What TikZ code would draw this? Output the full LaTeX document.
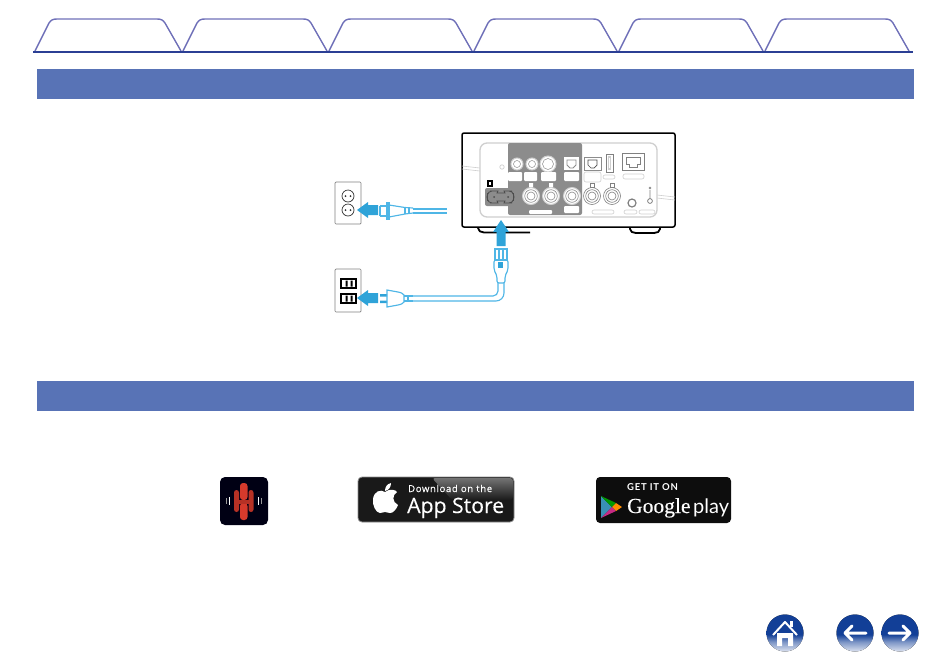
\documentclass[tikz,border=0pt]{standalone}
\usepackage{fontspec}
\setmainfont{Open Sans}
\newfontfamily\gfont{Liberation Serif}
\newfontfamily\badgefont{Lato}
\usetikzlibrary{positioning}
\definecolor{tabline}{HTML}{6F70B8}
\definecolor{tabbase}{HTML}{2B3F94}
\definecolor{barblue}{HTML}{5873B6}
\definecolor{plugblue}{HTML}{2FA3D8}
\definecolor{cordblue}{HTML}{4FB6E6}
\definecolor{panelgray}{HTML}{8C8C8C}
\definecolor{edgegray}{HTML}{CFCFCF}
\definecolor{navblue}{HTML}{123F97}
\definecolor{heosred}{HTML}{D63A2C}
\pgfdeclareverticalshading{navfade}{100bp}{color(0bp)=(white); color(25bp)=(white!85!navblue); color(38bp)=(navblue!55!white); color(48bp)=(navblue); color(100bp)=(navblue)}
\tikzset{
    bar/.style={fill=barblue,draw=none},
    bigarrow/.style={fill=plugblue,draw=none},
    cord/.style={cordblue,line width=1.15pt},
    tag/.style={fill=white,draw=none,rounded corners=1pt},
    taglight/.style={fill=white,draw=edgegray,line width=0.6pt,rounded corners=2pt},
    wall/.style={draw=gray,fill=white,line width=0.7pt,rounded corners=1pt},
    navbutton/.style={shading=navfade,draw=none},
    navsign/.style={draw=white,line width=3pt,line cap=round,line join=round},
    badgetext/.style={white,inner sep=0pt,anchor=base west},
}
\begin{document}
\begin{tikzpicture}[x=1pt,y=-1pt]
    \useasboundingbox (0,0) rectangle (950,665);
    % tabs
    \foreach \xa/\xb in {33/181,181/327,327/472,472/617,617/763,763/909}{
        \draw [tabline,line width=1.4pt] (\xa+2,51) -- (\xa+16,23) .. controls (\xa+18,20) and (\xa+20,19) .. (\xa+24,19)
            -- (\xb-24,19) .. controls (\xb-20,19) and (\xb-18,20) .. (\xb-16,23) -- (\xb,51);
    }
    \draw [tabbase,line width=2.6pt] (33,52) -- (913,52);
    % headings
    \fill [bar] (37,69) rectangle (914,99);
    \fill [bar] (37,381) rectangle (914,411);
    % device
    \draw [black,line width=1.8pt,rounded corners=2pt] (478,226) -- (478,230) -- (482,232.5) -- (530,232.5);
    \draw [black,line width=1.8pt,rounded corners=2pt] (630,226) -- (630,231) -- (634,233) -- (656,233) -- (660,231) -- (660,226);
    \draw [black,fill=white,line width=1.5pt,rounded corners=2pt] (462,133) rectangle (675,227);
    \draw [edgegray,line width=0.6pt] (462,166) -- (480,168) (462,169) -- (480,171);
    \draw [edgegray,line width=0.6pt] (657,195) -- (675,197) (657,198) -- (675,200);
    \draw [edgegray,fill=white,line width=1.3pt,rounded corners=7pt] (480,143) rectangle (657,217);
    \fill [panelgray,rounded corners=2pt] (508,143) rectangle (582,215);
    \fill [panelgray,rounded corners=2pt] (485,188) rectangle (517,206);
    \draw [edgegray,line width=0.7pt] (502,167) circle (2.2);
    % power inlet
    \draw [black!70,line width=0.8pt,rounded corners=4pt] (488,191) -- (494,191) .. controls (498,191) and (497,193) .. (501,193) .. controls (505,193) and (504,191) .. (508,191) -- (513,191)
        -- (514,197) -- (513,203) -- (508,203) .. controls (504,203) and (505,201) .. (501,201) .. controls (497,201) and (498,203) .. (494,203) -- (488,203) -- (487,197) -- cycle;
    \fill [black!70] (494,197) circle (1) (508,197) circle (1);
    \fill [black] (487,180) rectangle (493,187);
    \fill [white] (489,182) rectangle (491,185);
    % upper row
    \foreach \jx/\jr in {517/6,532/6,548/8}{
        \draw [edgegray,fill=white,line width=1pt] (\jx,164) circle (\jr);
        \draw [panelgray,line width=0.5pt] (\jx,164) circle (\jr-2.5);
    }
    \fill [tag] (508,172) rectangle (522,181);
    \fill [tag] (524,172) rectangle (537,181);
    \fill [tag] (541,172) rectangle (556,181);
    \fill [tag] (564,172) rectangle (579,181);
    \fill [white] (564,157) rectangle (579,170);
    \draw [panelgray,line width=0.8pt] (567,160) -- (576,160) -- (576,165) -- (573,168) -- (570,168) -- (567,165) -- cycle;
    \draw [panelgray,fill=white,line width=1pt] (584,157) rectangle (601,170);
    \draw [black!70,line width=0.7pt] (588,160) -- (597,160) -- (597,165) -- (594,168) -- (591,168) -- (588,165) -- cycle;
    \draw [taglight] (584,172) rectangle (601,182);
    \draw [gray,line width=0.7pt] (606,154) rectangle (613,172);
    \draw [edgegray,line width=1.4pt] (608.5,157) rectangle (610.5,169);
    \draw [taglight] (603,175) rectangle (615,179);
    \draw [gray,line width=0.7pt] (622,153) rectangle (644,170);
    \draw [gray,line width=0.7pt] (626,157) -- (640,157) -- (640,164) -- (637,164) -- (637,167) -- (629,167) -- (629,164) -- (626,164) -- cycle;
    \draw [taglight] (623,174) rectangle (644,179);
    % lower row
    \foreach \jx in {531,551,572}{
        \draw [edgegray,fill=white,line width=1pt] (\jx,196) circle (8.5);
        \draw [panelgray,line width=0.6pt] (\jx,196) circle (6.3) (\jx,196) circle (4);
    }
    \foreach \jx in {592,612}{
        \draw [gray,line width=0.6pt] (\jx,196) circle (8.5) (\jx,196) circle (6.3) (\jx,196) circle (4);
    }
    \fill [white] (529,183) rectangle (533,187) (549,183) rectangle (553,187);
    \draw [gray,line width=0.5pt] (590,183) rectangle (594,187) (610,183) rectangle (614,187);
    \fill [tag] (529,210) rectangle (552,214);
    \fill [tag] (564,206) rectangle (579,213);
    \draw [taglight] (592,210) rectangle (614,214);
    \draw [taglight] (624,210) rectangle (637,214);
    \draw [taglight] (639,210) rectangle (655,214);
    \draw [gray,line width=1.2pt] (632,203) circle (4);
    \draw [gray,line width=0.8pt] (650,201) circle (2.4) (650,190) -- (650,198);
    \draw [gray,line width=0.5pt] (650,188) circle (1);
    % outlet top
    \draw [wall] (335,182) rectangle (361,224);
    \draw [black!80,line width=0.7pt] (348,196) circle (6) (348,210) circle (6);
    \fill [black!80] (345.5,196) circle (1) (350.5,196) circle (1) (345.5,210) circle (1) (350.5,210) circle (1);
    \fill [bigarrow] (357,210) -- (368,202) -- (368,205) -- (378,205) -- (378,215) -- (368,215) -- (368,218) -- cycle;
    % plug top
    \draw [cord] (380,206) -- (387,206) (380,216) -- (387,216) (380,206) -- (380,216);
    \draw [cord,fill=white] (387,203) rectangle (389,219);
    \draw [cord] (389,205) -- (405,207.5) -- (413,208) (389,217) -- (405,214) -- (413,213);
    \draw [cord] (405,207.5) -- (405,214) (409,207.5) -- (409,213.5);
    \draw [cord] (413,209) -- (447,209) (413,213) -- (447,213);
    % outlet bottom
    \draw [wall] (335,269) rectangle (361,312);
    \foreach \sy in {279,294}{
        \draw [black,line width=1.2pt] (341,\sy) rectangle (356,\sy+9);
        \fill [black] (345.5,\sy+1.5) rectangle (347.5,\sy+7.5) (350.5,\sy+1.5) rectangle (352.5,\sy+7.5);
    }
    \fill [bigarrow] (357,298) -- (368,290) -- (368,293) -- (378,293) -- (378,303) -- (368,303) -- (368,306) -- cycle;
    % plug bottom
    \fill [plugblue] (380,294) rectangle (387,296.5) (380,300.5) rectangle (387,303);
    \draw [cord] (387,290) -- (398,292) .. controls (402,293) and (402,293) .. (404,295) -- (404,302) .. controls (402,304) and (402,304) .. (398,305) -- (387,307) -- cycle;
    \draw [cord] (404,296) -- (413,296) (404,301) -- (413,301) (408,295) -- (408,302);
    \draw [cord,rounded corners=5pt] (413,296) -- (498,296) -- (498,283);
    \draw [cord,rounded corners=8pt] (413,301) -- (504,301) -- (504,283);
    % inlet plug
    \draw [cord] (495,249) rectangle (507,260);
    \draw [cord] (499,249) -- (499,260) (503,249) -- (503,260);
    \draw [cord,rounded corners=2pt] (494,260) -- (508,260) -- (508,270) -- (505,276) -- (505,283) -- (497,283) -- (497,276) -- (494,270) -- cycle;
    \fill [plugblue] (498,262) rectangle (503,268);
    \fill [bigarrow] (501,220) -- (509,232) -- (505.5,232) -- (505.5,246) -- (496.5,246) -- (496.5,232) -- (493,232) -- cycle;
    % heos icon
    \fill [black!92!blue,rounded corners=5pt] (220,477) rectangle (268,525);
    \fill [heosred,rounded corners=3pt] (240,483) rectangle (247.5,500);
    \fill [heosred,rounded corners=3pt] (240,503) rectangle (247.5,520);
    \fill [heosred!85!black,rounded corners=2.5pt] (234,490) rectangle (239,512);
    \fill [heosred!85!black,rounded corners=2.5pt] (248.5,490) rectangle (253.5,512);
    \fill [heosred!85!black] (238,499.5) rectangle (250,503.5);
    \draw [white,line width=1pt] (229,497) -- (229,505) (258,497) -- (258,505);
    \draw [white!60!black,line width=0.8pt] (226.5,498) -- (226.5,504) (261,498) -- (261,504);
    % app store
    \fill [black!90,rounded corners=4pt] (358,477) rectangle (514,522);
    \shade [top color=black!55,bottom color=black!90,rounded corners=3pt] (432,478) -- (513,478) -- (513,500) -- (452,500) -- cycle;
    \draw [black!45,line width=0.8pt,rounded corners=4pt] (358,477) rectangle (514,522);
    \fill [white] (385,492) .. controls (390,488) and (396,490) .. (397,492) .. controls (392,495) and (392,502) .. (398,505)
        .. controls (396,510) and (393,513) .. (390,513) .. controls (388,513) and (387,512) .. (385,512) .. controls (383,512) and (382,513) .. (380,513)
        .. controls (376,513) and (372,505) .. (373,499) .. controls (374,491) and (381,489) .. (385,492) -- cycle;
    \fill [white] (385,491) .. controls (385,487) and (387,484) .. (391,483) .. controls (391,487) and (389,490) .. (385,491) -- cycle;
    \node [badgetext,font=\fontsize{9.5}{10}\selectfont\addfontfeature{LetterSpace=7,FakeBold=0.25}] (downloadtxt) at (408,492) {Download on the};
    \node [badgetext,font=\fontsize{21.2}{24}\selectfont\addfontfeature{FakeBold=0.2}] (appstoretxt) at (407,513) {App Store};
    % google play
    \fill [black!95,rounded corners=4pt] (596,477) rectangle (731,523);
    \fill [cyan!70!black] (601,496) -- (612,507) -- (601,518) -- cycle;
    \fill [green!60!black] (601,496) -- (616,503) -- (612,507) -- cycle;
    \fill [orange!90!yellow] (616,503) -- (622,507) -- (616,511) -- (612,507) -- cycle;
    \fill [magenta!80!black] (601,518) -- (612,507) -- (616,511) -- cycle;
    \node [badgetext,font=\badgefont\bfseries\fontsize{9.5}{10}\selectfont\addfontfeature{LetterSpace=8}] (getittxt) at (627,490) {GET IT ON};
    \node [badgetext,font=\gfont\fontsize{21.5}{24}\selectfont\addfontfeature{FakeBold=0.3}] (googletxt) at (627,513) {Google};
    \node [badgetext,font=\badgefont\fontsize{20}{24}\selectfont] (playtxt) at (693,513) {play};
    % navigation
    \fill [navbutton] (785,633) circle (18.5);
    \fill [navbutton] (855,633) circle (18.5);
    \fill [navbutton] (900,633) circle (18.5);
    \fill [white] (777,633) -- (793,633) -- (793,646) -- (788,646) -- (788,638) -- (782,638) -- (782,646) -- (777,646) -- cycle;
    \draw [white,line width=2pt,line join=round] (773,635) -- (785,622) -- (797,635);
    \fill [white] (790,621) rectangle (793,627);
    \draw [navsign] (866,633) -- (845,633) (852,626) -- (845,633) -- (852,640);
    \draw [navsign] (889,633) -- (910,633) (903,626) -- (910,633) -- (903,640);
\end{tikzpicture}
\end{document}
